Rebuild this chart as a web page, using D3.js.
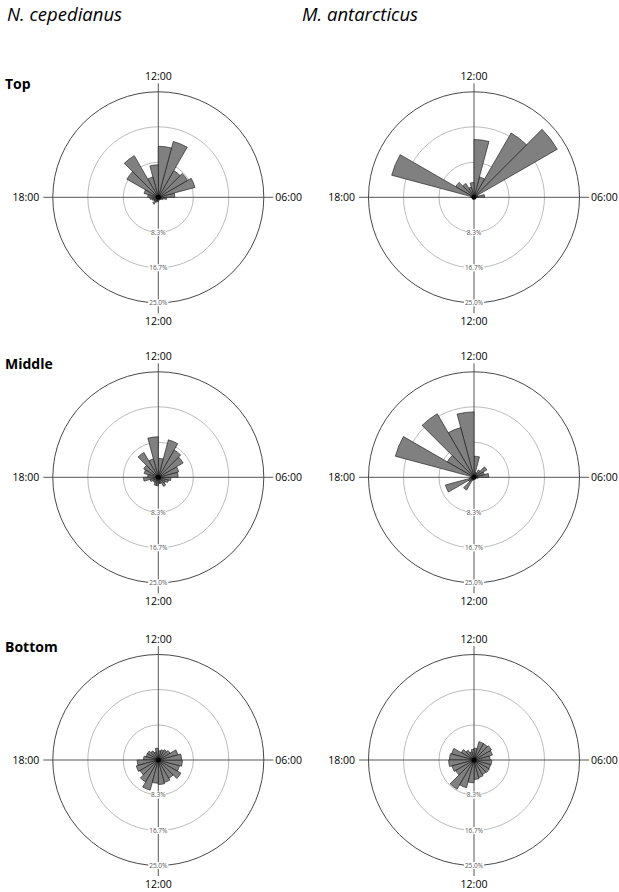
<!DOCTYPE html>
<html>
<head>
<meta charset="utf-8">
<script src="https://cdn.jsdelivr.net/npm/d3@7"></script>
<style>
  body { margin: 0; background: #fff; }
  text { font-family: "Open Sans", sans-serif; }
</style>
</head>
<body>
<div id="plot"></div>
<script>
// Define SVG area dimensions
var svgWidth = 619;
var svgHeight = 892;

// Species (columns) and depth (rows)
var species = ["N. cepedianus", "M. antarcticus"];
var depths = ["Top", "Middle", "Bottom"];

// Hour bins 0..23 (bin h covers h:00 - h+1:00)
var hours = d3.range(24);

// Percent of detections per hour bin
var cepTop    = [0.8, 0.6, 0.6, 0.8, 1.2, 2.0, 3.9, 9.0, 8.0, 7.3, 13.7, 12.1, 7.7, 5.0, 11.4, 8.6, 3.5, 2.5, 2.0, 1.5, 1.2, 1.9, 1.2, 1.0];
var antTop    = [0.2, 0.2, 0.2, 0.3, 0.3, 0.5, 2.5, 1.0, 22.8, 17.6, 5.0, 13.7, 3.5, 2.5, 3.8, 5.0, 20.2, 0.8, 0.5, 0.3, 0.3, 0.2, 0.2, 0.2];
var cepMiddle = [1.5, 1.5, 2.5, 2.0, 2.5, 3.0, 4.7, 5.0, 6.8, 7.5, 9.2, 4.5, 9.6, 4.5, 6.8, 4.0, 3.5, 2.5, 3.5, 2.0, 1.5, 1.5, 2.0, 2.0];
var antMiddle = [0.3, 0.3, 0.3, 0.3, 0.5, 1.0, 3.5, 2.5, 3.5, 2.0, 1.2, 5.0, 15.5, 12.2, 17.4, 7.3, 19.3, 0.5, 1.0, 7.0, 1.5, 3.5, 0.8, 0.5];
var cepBottom = [5.8, 5.5, 5.0, 6.2, 5.2, 5.7, 5.5, 4.8, 3.2, 2.8, 2.5, 2.2, 2.8, 2.0, 2.5, 3.0, 3.0, 3.5, 5.0, 5.4, 5.0, 6.0, 7.4, 5.5];
var antBottom = [4.6, 4.3, 4.0, 4.2, 4.1, 4.2, 3.8, 4.5, 4.8, 4.5, 4.5, 2.8, 2.5, 2.0, 2.7, 3.5, 5.5, 5.8, 6.0, 5.4, 5.0, 8.0, 6.8, 5.4];

// Ring ticks and clock labels
var ringTicks = [8.3, 16.7, 25.0];
var clockLabels = { top: "12:00", left: "18:00", right: "06:00", bottom: "12:00" };

var panelData = [
    [cepTop, antTop],
    [cepMiddle, antMiddle],
    [cepBottom, antBottom]
];

// Panel centres
var colX = [158.3, 474];
var rowY = [197.3, 477.3, 760];

var svg = d3.select("#plot")
    .append("svg")
    .attr("width", svgWidth)
    .attr("height", svgHeight);

// Radial scale: 0 at centre, 25% on the outer circle
var rScale = d3.scaleLinear()
    .domain([0, 25])
    .range([0, 105.5]);

// Angular scale: hour -> angle (12:00 at top, clockwise towards 06:00 on the right)
var angleScale = d3.scaleLinear()
    .domain([12, 0])
    .range([0, Math.PI]);

var arc = d3.arc()
    .innerRadius(0)
    .outerRadius(d => rScale(d.value))
    .startAngle(d => angleScale(d.hour + 1))
    .endAngle(d => angleScale(d.hour));

// Column titles
svg.selectAll(".title")
    .data(species)
    .enter()
    .append("text")
    .attr("x", (d, i) => i === 0 ? 7 : 302)
    .attr("y", 21)
    .style("font-style", "italic")
    .style("font-size", "18.5px")
    .attr("fill", "#000")
    .text(d => d);

// Row labels
svg.selectAll(".rowlabel")
    .data(depths)
    .enter()
    .append("text")
    .attr("x", 5)
    .attr("y", (d, i) => rowY[i] - 108)
    .style("font-weight", "bold")
    .style("font-size", "14px")
    .text(d => d);

function drawRose(cx, cy, values) {
    var g = svg.append("g")
        .attr("transform", `translate(${cx}, ${cy})`);

    // Outer circle
    g.append("circle")
        .attr("r", rScale(25))
        .attr("fill", "none")
        .attr("stroke", "#333")
        .attr("stroke-width", 0.9);

    // Inner rings
    g.selectAll(".ring")
        .data(ringTicks.slice(0, 2))
        .enter()
        .append("circle")
        .attr("r", d => rScale(d))
        .attr("fill", "none")
        .attr("stroke", "#aaa")
        .attr("stroke-width", 0.8);

    // Axis lines
    g.append("line")
        .attr("x1", -115).attr("x2", 115)
        .attr("y1", 0).attr("y2", 0)
        .attr("stroke", "#444")
        .attr("stroke-width", 0.9);
    g.append("line")
        .attr("x1", 0).attr("x2", 0)
        .attr("y1", -114).attr("y2", 116)
        .attr("stroke", "#444")
        .attr("stroke-width", 0.9);

    // Bars
    var bins = hours.map(h => ({ hour: h, value: values[h] }));
    g.selectAll(".bar")
        .data(bins)
        .enter()
        .append("path")
        .attr("class", "bar")
        .attr("d", arc)
        .attr("fill", "#808080")
        .attr("stroke", "#111")
        .attr("stroke-width", 0.6);

    g.append("circle")
        .attr("r", 2.5)
        .attr("fill", "#000");

    // Ring labels with white backgrounds
    var tick = g.selectAll(".tick")
        .data(ringTicks)
        .enter()
        .append("g")
        .attr("transform", d => `translate(0, ${rScale(d)})`);
    tick.append("rect")
        .attr("x", d => d < 10 ? -7 : -10)
        .attr("y", -3.5)
        .attr("width", d => d < 10 ? 14 : 20)
        .attr("height", 7)
        .attr("fill", "#fff");
    tick.append("text")
        .attr("text-anchor", "middle")
        .attr("dy", "0.35em")
        .style("font-size", "6.5px")
        .attr("fill", "#555")
        .text(d => d.toFixed(1) + "%");

    // Clock labels
    g.append("text")
        .attr("text-anchor", "middle")
        .attr("y", -117)
        .style("font-size", "10.5px")
        .text(clockLabels.top);
    g.append("text")
        .attr("text-anchor", "middle")
        .attr("y", 128)
        .style("font-size", "10.5px")
        .text(clockLabels.bottom);
    g.append("text")
        .attr("text-anchor", "end")
        .attr("x", -119)
        .attr("y", 4)
        .style("font-size", "10.5px")
        .text(clockLabels.left);
    g.append("text")
        .attr("x", 117)
        .attr("y", 4)
        .style("font-size", "10.5px")
        .text(clockLabels.right);
}

panelData.forEach(function (row, i) {
    row.forEach(function (values, j) {
        drawRose(colX[j], rowY[i], values);
    });
});
</script>
</body>
</html>
